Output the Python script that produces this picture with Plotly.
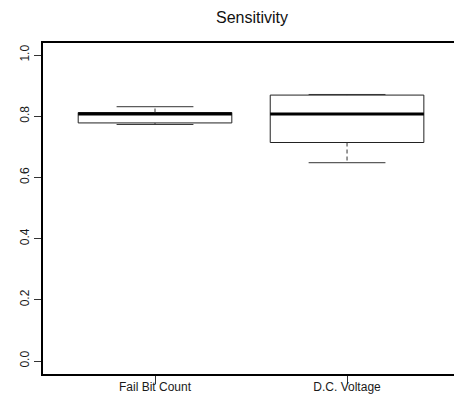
import plotly.graph_objects as go

categories = ["Fail Bit Count", "D.C. Voltage"]
lower_whisker = [0.773, 0.648]
q1 = [0.778, 0.714]
median = [0.807, 0.807]
q3 = [0.812, 0.869]
upper_whisker = [0.831, 0.871]
y_ticks = [0.0, 0.2, 0.4, 0.6, 0.8, 1.0]

positions = list(range(1, len(categories) + 1))
BOX_HALF = 0.4
CAP_HALF = 0.2
FONT = "Liberation Sans, Arial, Helvetica, sans-serif"

fig = go.Figure()

for i, pos in enumerate(positions):
    fig.add_trace(go.Box(
        x=[pos], q1=[q1[i]], median=[median[i]], q3=[q3[i]],
        lowerfence=[q1[i]], upperfence=[q3[i]],
        width=2 * BOX_HALF, whiskerwidth=0,
        fillcolor="white", line=dict(color="#222", width=1),
        boxpoints=False, showlegend=False, hoverinfo="skip",
    ))
    fig.add_trace(go.Scatter(
        x=[pos - BOX_HALF, pos + BOX_HALF], y=[median[i], median[i]],
        mode="lines", line=dict(color="black", width=3),
        showlegend=False, hoverinfo="skip",
    ))
    for a, b in ((q3[i], upper_whisker[i]), (q1[i], lower_whisker[i])):
        fig.add_trace(go.Scatter(
            x=[pos, pos], y=[a, b], mode="lines",
            line=dict(color="#333", width=1, dash="4px,3px"),
            showlegend=False, hoverinfo="skip",
        ))
    for v in (upper_whisker[i], lower_whisker[i]):
        fig.add_trace(go.Scatter(
            x=[pos - CAP_HALF, pos + CAP_HALF], y=[v, v], mode="lines",
            line=dict(color="#333", width=1),
            showlegend=False, hoverinfo="skip",
        ))

fig.update_layout(
    width=454, height=395,
    margin=dict(l=43, r=0, t=43, b=21),
    paper_bgcolor="white", plot_bgcolor="white",
    font=dict(family=FONT, size=12, color="#1a1a1a"),
    title=dict(text="Sensitivity", font=dict(family=FONT, size=16, color="#111"),
               xref="container", x=252 / 454, xanchor="center",
               yref="container", y=1 - 17 / 395, yanchor="middle"),
    xaxis=dict(
        range=[0.4167, 2.557], tickvals=positions, ticktext=categories,
        automargin=False,
        showgrid=False, zeroline=False, showline=True, mirror=True,
        linecolor="black", linewidth=1.5, ticks="outside", ticklen=8,
        tickcolor="#333", tickfont=dict(size=12, color="#1a1a1a"),
        ticklabelstandoff=-7,
    ),
    yaxis=dict(
        range=[-0.0425, 1.0392], tickvals=y_ticks,
        ticktext=[f"{v:.1f}" for v in y_ticks], tickangle=-90,
        automargin=False,
        showgrid=False, zeroline=False, showline=True, mirror=False,
        linecolor="black", linewidth=1.5, ticks="outside", ticklen=7,
        tickcolor="#333", tickfont=dict(size=12, color="#1a1a1a"),
    ),
)

fig.write_html(
    "out.html",
    config={"displayModeBar": False},
    post_script="document.body.style.margin='0';document.body.style.overflow='hidden';",
)
